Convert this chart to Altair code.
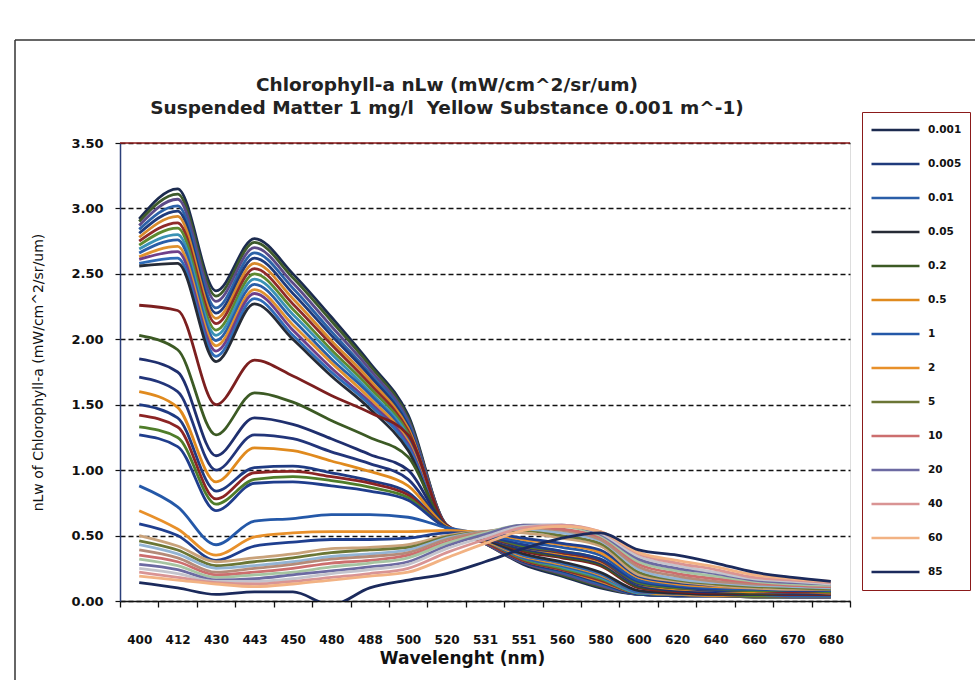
import altair as alt
import pandas as pd

# Category axis: band wavelengths (nm)
wavelengths = ["400", "412", "430", "443", "450", "480", "488", "500", "520", "531",
               "551", "560", "580", "600", "620", "640", "660", "670", "680"]

# Chlorophyll-a concentrations, one curve each (mg/m^3)
chl_levels = ["0.001", "0.002", "0.003", "0.004", "0.005", "0.006", "0.007", "0.008",
              "0.009", "0.01", "0.02", "0.03", "0.04", "0.05",
              "0.1", "0.2", "0.3", "0.4", "0.5", "0.6", "0.7", "0.8", "0.9",
              "1", "2", "3",
              "4", "5", "6", "8", "10", "15", "20", "30", "40", "60",
              "85"]

# Entries listed in the legend box
legend_levels = ["0.001", "0.005", "0.01", "0.05", "0.2", "0.5", "1", "2", "5",
                 "10", "20", "40", "60", "85"]

# nLw values per concentration, one value per wavelength
nlw_0_001 = [2.92, 3.15, 2.37, 2.77, 2.50, 2.17, 1.82, 1.42, 0.58, 0.44, 0.28, 0.19, 0.10, 0.05, 0.04, 0.04, 0.03, 0.03, 0.03]
nlw_0_002 = [2.90, 3.11, 2.33, 2.74, 2.47, 2.14, 1.80, 1.40, 0.58, 0.44, 0.29, 0.20, 0.11, 0.05, 0.04, 0.04, 0.03, 0.03, 0.03]
nlw_0_003 = [2.87, 3.07, 2.29, 2.70, 2.43, 2.10, 1.77, 1.38, 0.58, 0.44, 0.29, 0.21, 0.12, 0.05, 0.04, 0.04, 0.04, 0.03, 0.03]
nlw_0_004 = [2.84, 3.02, 2.24, 2.66, 2.39, 2.06, 1.74, 1.36, 0.57, 0.45, 0.30, 0.22, 0.13, 0.05, 0.04, 0.04, 0.04, 0.04, 0.04]
nlw_0_005 = [2.81, 2.98, 2.20, 2.62, 2.35, 2.03, 1.72, 1.34, 0.57, 0.45, 0.30, 0.23, 0.14, 0.05, 0.04, 0.04, 0.04, 0.04, 0.04]
nlw_0_006 = [2.78, 2.94, 2.16, 2.58, 2.31, 1.99, 1.69, 1.32, 0.57, 0.45, 0.31, 0.24, 0.15, 0.06, 0.05, 0.04, 0.04, 0.04, 0.04]
nlw_0_007 = [2.75, 2.89, 2.12, 2.54, 2.27, 1.96, 1.66, 1.30, 0.57, 0.45, 0.31, 0.24, 0.16, 0.06, 0.05, 0.05, 0.04, 0.04, 0.04]
nlw_0_008 = [2.72, 2.85, 2.07, 2.50, 2.23, 1.92, 1.63, 1.28, 0.57, 0.46, 0.32, 0.25, 0.17, 0.06, 0.05, 0.05, 0.04, 0.04, 0.04]
nlw_0_009 = [2.69, 2.80, 2.03, 2.46, 2.19, 1.89, 1.60, 1.26, 0.57, 0.46, 0.33, 0.26, 0.18, 0.06, 0.05, 0.05, 0.05, 0.04, 0.04]
nlw_0_01 = [2.66, 2.76, 1.99, 2.42, 2.15, 1.85, 1.58, 1.24, 0.56, 0.46, 0.33, 0.27, 0.19, 0.07, 0.05, 0.05, 0.05, 0.04, 0.04]
nlw_0_02 = [2.63, 2.71, 1.95, 2.38, 2.11, 1.82, 1.55, 1.22, 0.56, 0.46, 0.34, 0.28, 0.20, 0.07, 0.05, 0.05, 0.05, 0.05, 0.05]
nlw_0_03 = [2.61, 2.67, 1.91, 2.35, 2.07, 1.78, 1.52, 1.20, 0.56, 0.47, 0.35, 0.29, 0.21, 0.07, 0.06, 0.05, 0.05, 0.05, 0.05]
nlw_0_04 = [2.58, 2.62, 1.87, 2.31, 2.03, 1.75, 1.50, 1.18, 0.56, 0.47, 0.35, 0.29, 0.21, 0.07, 0.06, 0.05, 0.05, 0.05, 0.05]
nlw_0_05 = [2.56, 2.58, 1.83, 2.27, 2.00, 1.72, 1.47, 1.15, 0.56, 0.47, 0.36, 0.30, 0.22, 0.08, 0.06, 0.05, 0.05, 0.05, 0.05]
nlw_0_1 = [2.26, 2.22, 1.50, 1.84, 1.72, 1.57, 1.44, 1.27, 0.58, 0.48, 0.38, 0.33, 0.27, 0.10, 0.07, 0.06, 0.06, 0.05, 0.05]
nlw_0_2 = [2.03, 1.92, 1.27, 1.59, 1.52, 1.38, 1.25, 1.10, 0.57, 0.48, 0.39, 0.34, 0.28, 0.11, 0.08, 0.07, 0.06, 0.06, 0.06]
nlw_0_3 = [1.85, 1.75, 1.11, 1.40, 1.35, 1.24, 1.12, 1.00, 0.57, 0.48, 0.40, 0.35, 0.29, 0.12, 0.08, 0.07, 0.07, 0.06, 0.06]
nlw_0_4 = [1.71, 1.60, 1.00, 1.27, 1.24, 1.14, 1.05, 0.93, 0.57, 0.48, 0.40, 0.35, 0.30, 0.12, 0.09, 0.08, 0.07, 0.06, 0.06]
nlw_0_5 = [1.60, 1.48, 0.91, 1.17, 1.15, 1.07, 0.99, 0.88, 0.57, 0.49, 0.41, 0.36, 0.30, 0.13, 0.09, 0.08, 0.07, 0.07, 0.06]
nlw_0_6 = [1.50, 1.40, 0.84, 1.02, 1.03, 0.98, 0.92, 0.83, 0.56, 0.49, 0.41, 0.37, 0.31, 0.13, 0.10, 0.08, 0.08, 0.07, 0.07]
nlw_0_7 = [1.42, 1.33, 0.78, 0.98, 0.99, 0.95, 0.90, 0.81, 0.56, 0.49, 0.42, 0.37, 0.31, 0.14, 0.10, 0.09, 0.08, 0.07, 0.07]
nlw_0_8 = [1.33, 1.25, 0.74, 0.93, 0.95, 0.92, 0.87, 0.79, 0.56, 0.50, 0.42, 0.38, 0.32, 0.14, 0.10, 0.09, 0.08, 0.08, 0.07]
nlw_0_9 = [1.27, 1.18, 0.69, 0.90, 0.91, 0.88, 0.84, 0.77, 0.56, 0.50, 0.43, 0.38, 0.32, 0.15, 0.11, 0.09, 0.09, 0.08, 0.08]
nlw_1 = [0.88, 0.72, 0.43, 0.61, 0.63, 0.66, 0.66, 0.64, 0.56, 0.51, 0.45, 0.41, 0.35, 0.16, 0.12, 0.10, 0.09, 0.09, 0.08]
nlw_2 = [0.69, 0.55, 0.35, 0.49, 0.52, 0.53, 0.53, 0.53, 0.54, 0.52, 0.47, 0.43, 0.37, 0.18, 0.13, 0.11, 0.10, 0.09, 0.09]
nlw_3 = [0.59, 0.50, 0.31, 0.42, 0.45, 0.47, 0.47, 0.48, 0.52, 0.52, 0.48, 0.44, 0.39, 0.19, 0.14, 0.12, 0.11, 0.10, 0.09]
nlw_4 = [0.50, 0.42, 0.30, 0.33, 0.36, 0.40, 0.41, 0.43, 0.50, 0.53, 0.52, 0.48, 0.42, 0.20, 0.15, 0.12, 0.10, 0.09, 0.09]
nlw_5 = [0.46, 0.39, 0.27, 0.30, 0.33, 0.37, 0.39, 0.41, 0.49, 0.53, 0.54, 0.50, 0.44, 0.22, 0.16, 0.13, 0.11, 0.10, 0.09]
nlw_6 = [0.43, 0.36, 0.25, 0.27, 0.30, 0.34, 0.36, 0.39, 0.48, 0.53, 0.55, 0.52, 0.46, 0.24, 0.17, 0.14, 0.12, 0.11, 0.10]
nlw_8 = [0.39, 0.33, 0.22, 0.25, 0.28, 0.32, 0.34, 0.37, 0.47, 0.53, 0.56, 0.54, 0.47, 0.26, 0.19, 0.15, 0.13, 0.12, 0.11]
nlw_10 = [0.35, 0.30, 0.20, 0.22, 0.25, 0.29, 0.31, 0.35, 0.45, 0.52, 0.57, 0.55, 0.49, 0.28, 0.21, 0.17, 0.14, 0.12, 0.11]
nlw_15 = [0.32, 0.27, 0.18, 0.20, 0.22, 0.26, 0.29, 0.33, 0.44, 0.52, 0.58, 0.57, 0.50, 0.30, 0.23, 0.19, 0.15, 0.13, 0.12]
nlw_20 = [0.28, 0.24, 0.16, 0.17, 0.20, 0.23, 0.26, 0.30, 0.42, 0.51, 0.58, 0.58, 0.51, 0.32, 0.25, 0.21, 0.16, 0.14, 0.13]
nlw_30 = [0.25, 0.21, 0.15, 0.15, 0.17, 0.21, 0.24, 0.28, 0.40, 0.49, 0.57, 0.58, 0.52, 0.34, 0.27, 0.22, 0.17, 0.15, 0.13]
nlw_40 = [0.22, 0.18, 0.14, 0.13, 0.15, 0.18, 0.21, 0.25, 0.37, 0.47, 0.56, 0.58, 0.53, 0.36, 0.29, 0.24, 0.18, 0.16, 0.14]
nlw_60 = [0.19, 0.16, 0.13, 0.11, 0.13, 0.16, 0.19, 0.22, 0.33, 0.44, 0.54, 0.57, 0.53, 0.37, 0.31, 0.26, 0.20, 0.17, 0.15]
nlw_85 = [0.14, 0.10, 0.05, 0.07, 0.07, -0.03, 0.10, 0.16, 0.21, 0.30, 0.40, 0.48, 0.52, 0.39, 0.35, 0.29, 0.22, 0.18, 0.15]

nlw_series = [nlw_0_001, nlw_0_002, nlw_0_003, nlw_0_004, nlw_0_005, nlw_0_006, nlw_0_007,
              nlw_0_008, nlw_0_009, nlw_0_01, nlw_0_02, nlw_0_03, nlw_0_04, nlw_0_05,
              nlw_0_1, nlw_0_2, nlw_0_3, nlw_0_4, nlw_0_5, nlw_0_6, nlw_0_7, nlw_0_8, nlw_0_9,
              nlw_1, nlw_2, nlw_3,
              nlw_4, nlw_5, nlw_6, nlw_8, nlw_10, nlw_15, nlw_20, nlw_30, nlw_40, nlw_60,
              nlw_85]

line_colors = ["#1c2b4f", "#3e5a2c", "#5c4a88", "#2c62a8", "#1f3b7c", "#d88a2c", "#8f2a2a",
               "#5d8a30", "#3a92b5", "#2a5ea8", "#e0922e", "#6f3f8a", "#2f6cb8", "#262b36",
               "#7c1f1f", "#3c5a24", "#1f2f6e", "#22357a", "#e08a1e", "#1e3a82", "#8c2424",
               "#4f7d2a", "#1f3d8c",
               "#2458a8", "#e8902a", "#1f3f8f",
               "#c9a27a", "#6b7635", "#93b4d4", "#b58a78", "#cc6e6e", "#a6c4a2", "#6c6aa2",
               "#c4c4cc", "#d99494", "#f2b283",
               "#1b2a5c"]

records = []
for level, values in zip(chl_levels, nlw_series):
    for wl, v in zip(wavelengths, values):
        records.append({"chl": level, "wavelength": wl, "nlw": v})
spectra = pd.DataFrame(records)

lines = alt.Chart(spectra).mark_line(strokeWidth=2.8, interpolate="monotone", clip=True).encode(
    x=alt.X("wavelength:O", sort=wavelengths, bandPosition=0.5,
            scale=alt.Scale(type="band", paddingInner=0, paddingOuter=0),
            axis=alt.Axis(title="Wavelenght (nm)", labelAngle=0, tickBand="extent",
                          grid=False, domainColor="#111", domainWidth=1.5,
                          tickColor="#111", tickWidth=1.3, tickSize=6,
                          labelFont="DejaVu Sans", labelFontWeight="bold", labelFontSize=12,
                          labelColor="#111", labelPadding=27,
                          titleFont="DejaVu Sans", titleFontWeight="bold", titleFontSize=17,
                          titleColor="#111", titleX=342, titleY=57,
                          titleAlign="center", titleBaseline="middle")),
    y=alt.Y("nlw:Q", scale=alt.Scale(domain=[0, 3.5], nice=False, zero=True),
            axis=alt.Axis(title="nLw of Chlorophyll-a (mW/cm^2/sr/um)",
                          values=[0, 0.5, 1.0, 1.5, 2.0, 2.5, 3.0, 3.5], format=".2f",
                          grid=True, gridColor="#111", gridDash=[5, 3], gridWidth=1.4,
                          domainColor="#2b3f7a", domainWidth=1.5,
                          tickColor="#111", tickWidth=1.2, tickSize=5,
                          labelFont="DejaVu Sans", labelFontWeight="bold", labelFontSize=13,
                          labelColor="#111", labelPadding=12,
                          titleFont="DejaVu Sans", titleFontSize=14, titleFontWeight="normal",
                          titleColor="#111", titleX=-82, titleY=229,
                          titleAlign="center", titleBaseline="middle", titleAngle=270)),
    color=alt.Color("chl:N", sort=chl_levels,
                    scale=alt.Scale(domain=chl_levels, range=line_colors),
                    legend=alt.Legend(values=legend_levels, title=None, orient="none",
                                      legendX=742, legendY=-31,
                                      symbolType="stroke", symbolSize=2304,
                                      symbolStrokeWidth=2.5, clipHeight=20, rowPadding=14,
                                      labelFont="DejaVu Sans", labelFontWeight="bold",
                                      labelFontSize=10.5, labelColor="#111", labelOffset=7,
                                      padding=8, strokeColor="#8b1a1a", fillColor="white")),
)

frame_src = pd.DataFrame({"k": [0]})

# dark red top edge of the plot area
top_border = alt.Chart(frame_src).mark_rule(color="#8b1a1a", strokeWidth=1.5).encode(
    x=alt.value(0), x2=alt.value(730), y=alt.value(0)
)

# outer chart-area border (left and top edges)
outer_top = alt.Chart(frame_src).mark_rule(color="#333", strokeWidth=1.5).encode(
    x=alt.value(-105), x2=alt.value(860), y=alt.value(-103)
)
outer_left = alt.Chart(frame_src).mark_rule(color="#333", strokeWidth=1.5).encode(
    x=alt.value(-105), y=alt.value(-103), y2=alt.value(540)
)

chart = alt.layer(lines, top_border, outer_top, outer_left).properties(
    width=730, height=458,
    padding={"left": 120, "top": 143, "right": 125, "bottom": 79},
    autosize=alt.AutoSizeParams(type="none"),
    title=alt.TitleParams(
        text=["Chlorophyll-a nLw (mW/cm^2/sr/um)",
              "Suspended Matter 1 mg/l\u00a0 Yellow Substance 0.001 m^-1)"],
        font="DejaVu Sans", fontSize=18.5, fontWeight="bold", color="#222",
        anchor="middle", dx=-38, dy=72, offset=-6, lineHeight=23),
).configure_view(stroke=None).configure(background="white")

chart.save("out.html", embed_options={"renderer": "svg", "actions": False})
